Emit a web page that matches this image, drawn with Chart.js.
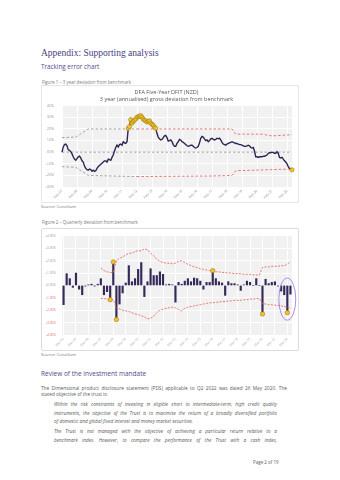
<!DOCTYPE html>
<html>
<head>
<meta charset="utf-8">
<script src="https://cdn.jsdelivr.net/npm/chart.js@4.4.1/dist/chart.umd.min.js"></script>
<style>
  html, body { margin: 0; padding: 0; background: #fff; }
  body { width: 340px; height: 480px; position: relative; overflow: hidden; font-family: "Open Sans", sans-serif; color: #595959; }
  .t { position: absolute; white-space: nowrap; line-height: 1; }
  .h1 { left: 41px; font-family: "Liberation Serif", serif; font-size: 9.5px; color: #4b3c7e; }
  .h2 { left: 41px; font-size: 6.3px; color: #56478a; }
  .cap { left: 42px; font-size: 4.4px; color: #7a7a7a; }
  .src { left: 41px; font-size: 4.2px; color: #7a7a7a; }
  .box { position: absolute; box-sizing: border-box; border: 1px solid #e6e6e6; }
  canvas { position: absolute; }
  .body { position: absolute; font-size: 4.75px; line-height: 6px; color: #595959; }
  .ital { position: absolute; left: 54px; width: 223px; font-size: 4.75px; line-height: 8.4px; font-style: italic; color: #595959; }
  .jl { text-align: justify; text-align-last: justify; white-space: nowrap; }
</style>
</head>
<body>
<div class="t h1" style="top:48.5px">Appendix: Supporting analysis</div>
<div class="t h2" style="top:64px">Tracking error chart</div>
<div class="t cap" style="top:79.5px">Figure 1 – 3 year deviation from benchmark</div>
<div class="box" style="left:41px;top:85px;width:258px;height:118px"></div>
<canvas id="c1" width="257" height="117" style="left:41px;top:85px"></canvas>
<div class="t src" style="top:204.7px">Source: Consilium</div>

<div class="t cap" style="top:220.3px">Figure 2 – Quarterly deviation from benchmark</div>
<div class="box" style="left:41px;top:228px;width:258px;height:123px;border-color:#dcdcdc;border-radius:2px"></div>
<canvas id="c2" width="257" height="122" style="left:41px;top:228px"></canvas>
<div class="t src" style="top:352.7px">Source: Consilium</div>

<div class="t h2" style="top:371.2px;font-size:6.5px">Review of the investment mandate</div>
<div class="body" style="left:41px;top:385.3px;width:246px">
  <div class="jl">The Dimensional product disclosure statement (PDS) applicable to Q2 2022 was dated 26 May 2020. The</div>
  <div>stated objective of the trust is:</div>
</div>
<div class="ital" style="top:400.1px">
  <div class="jl">Within the risk constraints of investing in eligible short to intermediate-term, high credit quality</div>
  <div class="jl">instruments, the objective of the Trust is to maximise the return of a broadly diversified portfolio</div>
  <div>of domestic and global fixed interest and money market securities.</div>
</div>
<div class="ital" style="top:427.1px">
  <div class="jl">The Trust is not managed with the objective of achieving a particular return relative to a</div>
  <div class="jl">benchmark index. However, to compare the performance of the Trust with a cash index,</div>
</div>
<div class="t" style="left:253px;top:460px;font-size:4.5px;color:#595959">Page 2 of 19</div>

<script>
// ---- Figure 1: 3 year (annualised) gross deviation, monthly from Feb-07
const MONTHS = ['Jan','Feb','Mar','Apr','May','Jun','Jul','Aug','Sep','Oct','Nov','Dec'];

const deviation3y = [
  0.0, 0.45, 0.65, 0.7, 0.55, 0.2, 0.15, 0.05, -0.15, -0.4,
  -0.6, -0.7, -0.55, -0.4, -0.35, -0.5, -0.75, -0.85, -1.2, -1.4,
  -1.5, -1.55, -1.45, -1.5, -1.65, -1.55, -1.65, -1.6, -1.4, -1.25,
  -1.15, -1.05, -0.95, -0.85, -0.75, -0.75, -0.85, -0.6, -0.65, -0.7,
  -0.45, -0.25, 0.1, 0.4, 0.6, 0.45, 0.65, 0.7, 0.6, 0.9,
  0.8, 0.75, 0.9, 2.05, 2.2, 2.8, 2.5, 2.65, 2.75, 2.85,
  3.0, 3.05, 3.1, 3.15, 3.0, 2.85, 2.75, 2.7, 2.6, 2.65,
  2.7, 2.5, 2.4, 2.3, 2.15, 2.05, 1.6, 1.3, 1.15, 1.05,
  1.1, 1.25, 1.4, 1.45, 1.25, 0.95, 1.0, 1.05, 0.9, 0.65,
  0.5, 0.5, 0.75, 0.9, 1.1, 1.05, 0.9, 0.85, 0.75, 0.65,
  0.55, 0.5, 0.55, 0.6, 0.6, 0.5, 0.4, 0.35, 0.4, 0.5,
  0.8, 1.2, 1.35, 1.3, 1.15, 1.0, 1.05, 0.9, 1.0, 1.15,
  1.2, 1.1, 1.05, 1.1, 1.2, 1.15, 1.2, 1.05, 0.85, 0.7,
  0.65, 0.6, 0.7, 0.75, 0.8, 0.85, 0.9, 0.85, 0.8, 0.75,
  0.75, 0.7, 0.65, 0.65, 0.6, 0.55, 0.5, 0.5, 0.55, 0.6,
  0.55, 0.4, 0.35, 0.4, 0.1, -0.4, -0.4, -0.45, -0.4, -0.4,
  -0.4, -0.35, -0.35, -0.3, -0.25, -0.1, -0.05, -0.05, 0.0, -0.05,
  -0.1, -0.1, 0.05, -0.1, -0.45, -0.5, -0.45, -0.6, -0.75, -0.85,
  -1.0, -1.25, -1.4, -1.45, -1.52
];

// band breakpoints (month label, value)
const upperBand1 = [
  { x: 'Feb-07', y: 1.25 }, { x: 'Jan-08', y: 1.3 }, { x: 'Nov-08', y: 2.0 },
  { x: 'Feb-12', y: 2.0 }, { x: 'Jun-18', y: 2.0 }, { x: 'Sep-18', y: 1.55 },
  { x: 'Jun-20', y: 1.55 }, { x: 'Feb-21', y: 1.4 }, { x: 'Jun-22', y: 1.5 }
];
const lowerBand1 = [
  { x: 'Feb-07', y: -1.25 }, { x: 'Jan-08', y: -1.3 }, { x: 'Nov-08', y: -2.0 },
  { x: 'Feb-12', y: -2.1 }, { x: 'Feb-17', y: -2.05 }, { x: 'Jun-18', y: -2.0 },
  { x: 'Sep-18', y: -1.6 }, { x: 'Jun-22', y: -1.45 }
];

const monthLabels = [];
for (let k = 0; k < deviation3y.length; k++) {
  const m = (1 + k) % 12;
  const yr = 7 + Math.floor((1 + k) / 12);
  monthLabels.push(MONTHS[m] + '-' + String(yr).padStart(2, '0'));
}

// ---- Figure 2: quarterly deviation, from Mar-04
const QMONTHS = ['Mar', 'Jun', 'Sep', 'Dec'];

const quarterlyDev = [
  -1.55, 0.95, 0.55, -0.15, 1.0, -0.3, -0.75, -0.05, 0.05, 0.1,
  -0.05, 0.1, 0.55, -0.75, -0.5, -1.15, 1.9, -2.75, -1.5, -0.6,
  0.2, 1.6, 0.3, 0.55, 1.3, 1.85, -0.9, 0.3, 1.35, 0.8,
  0.8, 1.1, 0.9, 0.05, 0.1, 0.05, -1.35, 0.25, 0.1, 0.35,
  0.55, 0.3, 0.6, 0.55, 0.35, -0.3, 0.25, 0.25, 1.2, 0.55,
  0.3, 0.2, -0.8, 0.3, 0.15, 0.15, 0.05, -0.4, 0.05, 0.35,
  0.25, 0.0, 0.55, 0.0, -2.3, 0.5, 0.15, 0.25, 0.3, -0.05,
  -0.45, -0.75, -2.2, -0.7
];

const upperBand2 = [
  null, null, null, null, null, null, null, null, null, null, null, null,
  1.4, 1.2, 1.1, 1.05, 1.05, 2.0, 2.2, 2.3,
  2.45, 2.6, 2.6, 2.75, 2.8, 2.8, 2.95, 2.9, 2.6, 2.4,
  2.1, 1.95, 1.85, 1.8, 1.8, 1.75, 1.8, 1.95, 2.0, 1.85,
  1.7, 1.6, 1.5, 1.45, 1.35, 1.3, 1.25, 1.2, 1.15, 1.1,
  1.1, 1.05, 1.05, 1.0, 1.0, 0.95, 0.95, 0.95, 0.9, 0.9,
  0.9, 0.85, 0.85, 0.85, 1.45, 1.5, 1.5, 1.55, 1.55, 1.55,
  1.6, 1.6, 1.7, 1.95
];
const lowerBand2 = [
  null, null, null, null, null, null, null, null, null, null, null, null,
  -1.05, -1.05, -1.1, -1.1, -1.15, -1.8, -1.9, -2.0,
  -2.05, -2.1, -2.2, -2.3, -2.35, -2.45, -2.55, -2.7, -2.65, -2.5,
  -2.2, -2.0, -1.9, -1.85, -1.8, -1.75, -1.8, -1.95, -2.05, -1.85,
  -1.75, -1.7, -1.65, -1.6, -1.55, -1.5, -1.45, -1.4, -1.4, -1.35,
  -1.35, -1.3, -1.3, -1.25, -1.25, -1.2, -1.2, -1.2, -1.15, -1.15,
  -1.1, -1.1, -1.05, -1.05, -1.45, -1.5, -1.55, -1.55, -1.6, -1.6,
  -1.65, -1.7, -1.75, -1.85
];

const quarterLabels = [];
for (let k = 0; k < quarterlyDev.length; k++) {
  quarterLabels.push(QMONTHS[k % 4] + '-' + String(4 + Math.floor(k / 4)).padStart(2, '0'));
}

// quarters outside the bands get a marker
const breaches2 = quarterlyDev.map((v, i) =>
  upperBand2[i] != null && (v > upperBand2[i] || v < lowerBand2[i]) ? v : null);

// band value at a month, only used to decide which points get a marker
function bandAt(points, i) {
  for (let k = 1; k < points.length; k++) {
    const a = monthLabels.indexOf(points[k - 1].x);
    const b = monthLabels.indexOf(points[k].x);
    if (i <= b) return points[k - 1].y + (points[k].y - points[k - 1].y) * (i - a) / (b - a);
  }
  return points[points.length - 1].y;
}

Chart.defaults.font.family = 'Open Sans';

const GOLD = '#f2c230';
const GOLD_EDGE = '#a27d0c';
const NAVY = '#2e2652';
const RED = '#e36a6a';

const plotBg = {
  id: 'plotBg',
  beforeDraw(chart) {
    const { ctx, chartArea: a } = chart;
    ctx.save();
    ctx.fillStyle = '#f1f1f1';
    ctx.fillRect(a.left, a.top, a.width, a.height);
    ctx.restore();
  }
};

const zeroLine = {
  id: 'zeroLine',
  beforeDatasetsDraw(chart) {
    const { ctx, chartArea: a, scales } = chart;
    const y = scales.y.getPixelForValue(0);
    ctx.save();
    ctx.strokeStyle = '#8a8a8a';
    ctx.lineWidth = 0.8;
    ctx.setLineDash([2.5, 2]);
    ctx.beginPath();
    ctx.moveTo(a.left, y);
    ctx.lineTo(a.right, y);
    ctx.stroke();
    ctx.restore();
  }
};

// purple ring round the latest quarters
const ringLatest = {
  id: 'ringLatest',
  afterDatasetsDraw(chart) {
    const { ctx, scales } = chart;
    const n = quarterLabels.length;
    const x0 = scales.x.getPixelForValue(n - 4);
    const x1 = scales.x.getPixelForValue(n - 1);
    const top = scales.y.getPixelForValue(0.6);
    const bot = scales.y.getPixelForValue(-2.8);
    ctx.save();
    ctx.strokeStyle = '#9b6fe0';
    ctx.lineWidth = 0.8;
    ctx.beginPath();
    ctx.ellipse((x0 + x1) / 2 + 1.5, (top + bot) / 2, (x1 - x0) / 2 + 3.8, (bot - top) / 2, 0, 0, Math.PI * 2);
    ctx.stroke();
    ctx.restore();
  }
};

const bandColour = ctx => (ctx.p0.parsed.x < 60 ? '#9a9a9a' : RED);

new Chart(document.getElementById('c1'), {
  type: 'line',
  data: {
    labels: monthLabels,
    datasets: [
      {
        label: '3 year deviation',
        data: deviation3y,
        borderColor: NAVY,
        borderWidth: 1.4,
        tension: 0,
        pointRadius: ctx => {
          const v = ctx.raw, i = ctx.dataIndex;
          return v > bandAt(upperBand1, i) || v < bandAt(lowerBand1, i) ? 2.1 : 0;
        },
        pointBackgroundColor: GOLD,
        pointBorderColor: GOLD_EDGE,
        pointBorderWidth: 0.6,
        order: 0
      },
      {
        label: 'Upper',
        data: upperBand1,
        borderWidth: 0.9,
        borderDash: [2.5, 2],
        pointRadius: 0,
        segment: { borderColor: bandColour },
        order: 1
      },
      {
        label: 'Lower',
        data: lowerBand1,
        borderWidth: 0.9,
        borderDash: [2.5, 2],
        pointRadius: 0,
        segment: { borderColor: bandColour },
        order: 1
      }
    ]
  },
  options: {
    responsive: false,
    animation: false,
    layout: { padding: { right: 6 } },
    plugins: {
      legend: { display: false },
      tooltip: { enabled: false },
      title: {
        display: true,
        text: 'DFA Five-Year DFIT (NZD)',
        color: '#595959',
        font: { size: 5.5, weight: 'normal' },
        padding: { top: 4, bottom: 0.5 }
      },
      subtitle: {
        display: true,
        text: '3 year (annualised) gross deviation from benchmark',
        color: '#595959',
        font: { size: 5.5 },
        padding: { top: 0, bottom: 3 }
      }
    },
    scales: {
      x: {
        offset: false,
        border: { display: false },
        grid: {
          color: ctx => (ctx.index % 12 === 0 ? '#ffffff' : 'rgba(0,0,0,0)'),
          lineWidth: 0.9,
          drawTicks: false
        },
        ticks: {
          autoSkip: false,
          maxRotation: 45,
          minRotation: 45,
          padding: 2,
          color: '#8a8a8a',
          font: { size: 3.4 },
          callback: (v, i) => (i % 12 === 0 ? monthLabels[i] : '')
        },
        afterFit: s => { s.height = 15; }
      },
      y: {
        min: -3,
        max: 4,
        border: { display: false },
        grid: { color: '#ffffff', lineWidth: 0.9, drawTicks: false },
        ticks: {
          stepSize: 1,
          padding: 8,
          color: '#8a8a8a',
          font: { size: 3.2 },
          callback: v => v.toFixed(1) + '%'
        },
        afterFit: s => { s.width = 21; }
      }
    }
  },
  plugins: [plotBg, zeroLine]
});

new Chart(document.getElementById('c2'), {
  type: 'bar',
  data: {
    labels: quarterLabels,
    datasets: [
      {
        type: 'line',
        label: 'Breach',
        data: breaches2,
        showLine: false,
        pointRadius: 2.2,
        pointBackgroundColor: GOLD,
        pointBorderColor: GOLD_EDGE,
        pointBorderWidth: 0.6,
        order: 0
      },
      {
        type: 'line',
        label: 'Upper',
        data: upperBand2,
        borderColor: RED,
        borderWidth: 0.9,
        borderDash: [2, 1.4],
        pointRadius: 0,
        tension: 0,
        order: 1
      },
      {
        type: 'line',
        label: 'Lower',
        data: lowerBand2,
        borderColor: RED,
        borderWidth: 0.9,
        borderDash: [2, 1.4],
        pointRadius: 0,
        tension: 0,
        order: 1
      },
      {
        label: 'Quarterly deviation',
        data: quarterlyDev,
        backgroundColor: '#35295a',
        barThickness: 1.5,
        order: 2
      }
    ]
  },
  options: {
    responsive: false,
    animation: false,
    layout: { padding: { top: 4, right: 6 } },
    plugins: {
      legend: { display: false },
      tooltip: { enabled: false }
    },
    scales: {
      x: {
        offset: true,
        border: { display: false },
        grid: {
          offset: false,
          color: ctx => (ctx.index % 4 === 0 ? '#ffffff' : 'rgba(0,0,0,0)'),
          lineWidth: 0.9,
          drawTicks: false
        },
        ticks: {
          autoSkip: false,
          maxRotation: 45,
          minRotation: 45,
          padding: 2,
          color: '#a8a8a8',
          font: { size: 3.2 },
          callback: (v, i) => (i % 4 === 0 ? quarterLabels[i] : '')
        },
        afterFit: s => { s.height = 15; }
      },
      y: {
        min: -4,
        max: 4,
        border: { display: false },
        grid: { color: '#ffffff', lineWidth: 0.9, drawTicks: false },
        ticks: {
          stepSize: 1,
          padding: 6,
          color: ctx => (ctx.tick.value < 0 ? '#e06a6a' : '#9a9a9a'),
          font: { size: 3.2 },
          callback: v => (v < 0 ? v.toFixed(2) : '+' + v.toFixed(2)) + '%'
        },
        afterFit: s => { s.width = 21; }
      }
    }
  },
  plugins: [plotBg, ringLatest]
});
</script>
</body>
</html>
